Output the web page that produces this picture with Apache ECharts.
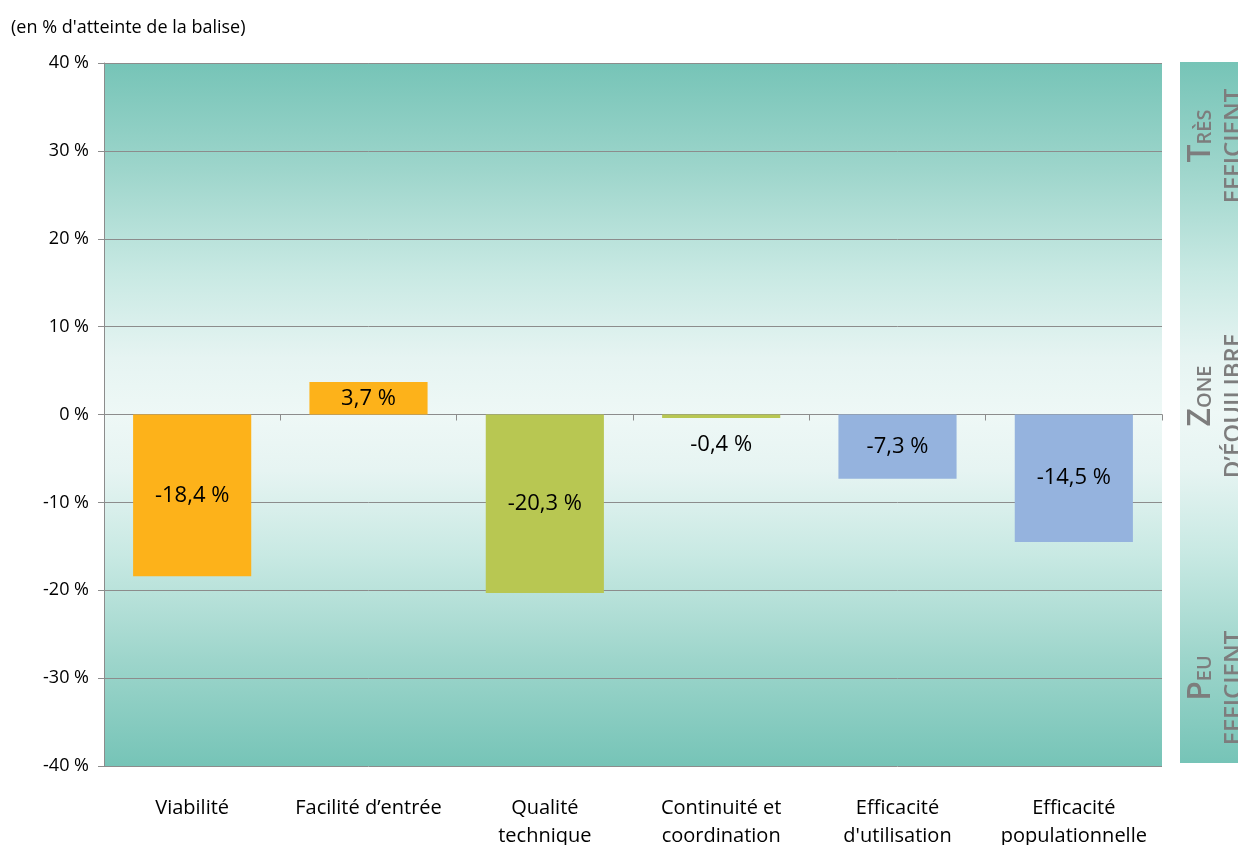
<!DOCTYPE html>
<html>
<head>
<meta charset="utf-8">
<script src="https://cdn.jsdelivr.net/npm/echarts@6/dist/echarts.min.js"></script>
<style>
  html, body { margin: 0; padding: 0; background: #fff; }
  #chart { width: 1238px; height: 845px; }
</style>
</head>
<body>
<div id="chart"></div>
<script>
// données
const categories = ['Viabilité', 'Facilité d’entrée', 'Qualité\ntechnique', 'Continuité et\ncoordination', 'Efficacité\nd\'utilisation', 'Efficacité\npopulationnelle'];
const values = [-18.4, 3.7, -20.3, -0.4, -7.3, -14.5];
const barColors = ['#fdb21a', '#fdb21a', '#b8c752', '#b8c752', '#95b3de', '#95b3de'];
const yTicks = [-40, -30, -20, -10, 0, 10, 20, 30, 40];

const FONT = 'Open Sans';
const teal = '#76c4b7';

const bgGradient = () => new echarts.graphic.LinearGradient(0, 0, 0, 1, [
  { offset: 0, color: teal },
  { offset: 0.15, color: '#9dd5cb' },
  { offset: 0.3, color: '#c8e9e3' },
  { offset: 0.42, color: '#e6f4f2' },
  { offset: 0.5, color: '#eef8f6' },
  { offset: 0.58, color: '#e6f4f2' },
  { offset: 0.7, color: '#c8e9e3' },
  { offset: 0.85, color: '#9dd5cb' },
  { offset: 1, color: teal }
]);

const fmt = v => v.toFixed(1).replace('.', ',') + ' %';

const barData = values.map((v, i) => {
  const item = { value: v, itemStyle: { color: barColors[i] } };
  // la petite barre : étiquette sous la barre
  if (Math.abs(v) < 1) {
    item.label = { position: 'bottom', distance: 16 };
  }
  return item;
});

// panneau de droite (zones)
const zoneText = (y, big, small, line2) => ([
  {
    type: 'text', x: 1201, y: y, rotation: Math.PI / 2, silent: true,
    style: {
      text: '{b|' + big + '}{s|' + small + '}',
      align: 'center', verticalAlign: 'middle',
      rich: {
        b: { fontSize: 32, fontFamily: FONT, fill: '#7d7d7d', fontWeight: 600 },
        s: { fontSize: 20, fontFamily: FONT, fill: '#7d7d7d', fontWeight: 600, padding: [8, 0, 0, 0] }
      }
    }
  },
  {
    type: 'text', x: 1234, y: y + 10, rotation: Math.PI / 2, silent: true,
    style: {
      text: line2, align: 'center', verticalAlign: 'middle',
      fontSize: 24, fontFamily: FONT, fill: '#7d7d7d', fontWeight: 600
    }
  }
]);

const chart = echarts.init(document.getElementById('chart'));
chart.setOption({
  animation: false,
  backgroundColor: '#fff',
  textStyle: { fontFamily: FONT },
  title: {
    text: '(en % d\'atteinte de la balise)',
    left: 6, top: 14,
    textStyle: { fontSize: 18, fontWeight: 'normal', color: '#000', fontFamily: FONT }
  },
  grid: {
    left: 104, right: 76, top: 63, bottom: 79,
    outerBoundsMode: 'none',
    show: true, borderWidth: 0,
    backgroundColor: bgGradient()
  },
  xAxis: [
    {
      type: 'category',
      data: categories,
      axisLine: { onZero: true, lineStyle: { color: '#8c8c8c', width: 1 } },
      axisTick: { show: true, length: 6, lineStyle: { color: '#8c8c8c' } },
      axisLabel: { show: false }
    },
    {
      type: 'category',
      data: categories,
      position: 'bottom',
      axisLine: { show: false, onZero: false },
      axisTick: { show: false },
      axisLabel: { show: true, interval: 0, margin: 28, fontSize: 20, color: '#000', lineHeight: 28, fontFamily: FONT }
    }
  ],
  yAxis: {
    type: 'value',
    min: -40, max: 40, interval: 10,
    axisLine: { show: true, lineStyle: { color: '#8c8c8c' } },
    axisTick: { show: true, length: 6, lineStyle: { color: '#8c8c8c' } },
    axisLabel: { formatter: '{value} %', fontSize: 18, color: '#000', margin: 15, fontFamily: FONT },
    splitLine: { show: true, lineStyle: { color: '#8c8c8c', width: 1 } }
  },
  series: [{
    type: 'bar',
    xAxisIndex: 0,
    data: barData,
    barWidth: '67%',
    label: {
      show: true,
      position: 'inside',
      formatter: p => fmt(p.value),
      fontSize: 22, color: '#000', fontFamily: FONT
    }
  }],
  graphic: [
    {
      type: 'rect', silent: true,
      shape: { x: 1180, y: 62, width: 60, height: 701 },
      style: { fill: bgGradient() }
    },
    ...zoneText(136, 'T', 'RÈS', 'EFFICIENT'),
    ...zoneText(396, 'Z', 'ONE', 'D’ÉQUILIBRE'),
    ...zoneText(678, 'P', 'EU', 'EFFICIENT')
  ]
});
</script>
</body>
</html>
